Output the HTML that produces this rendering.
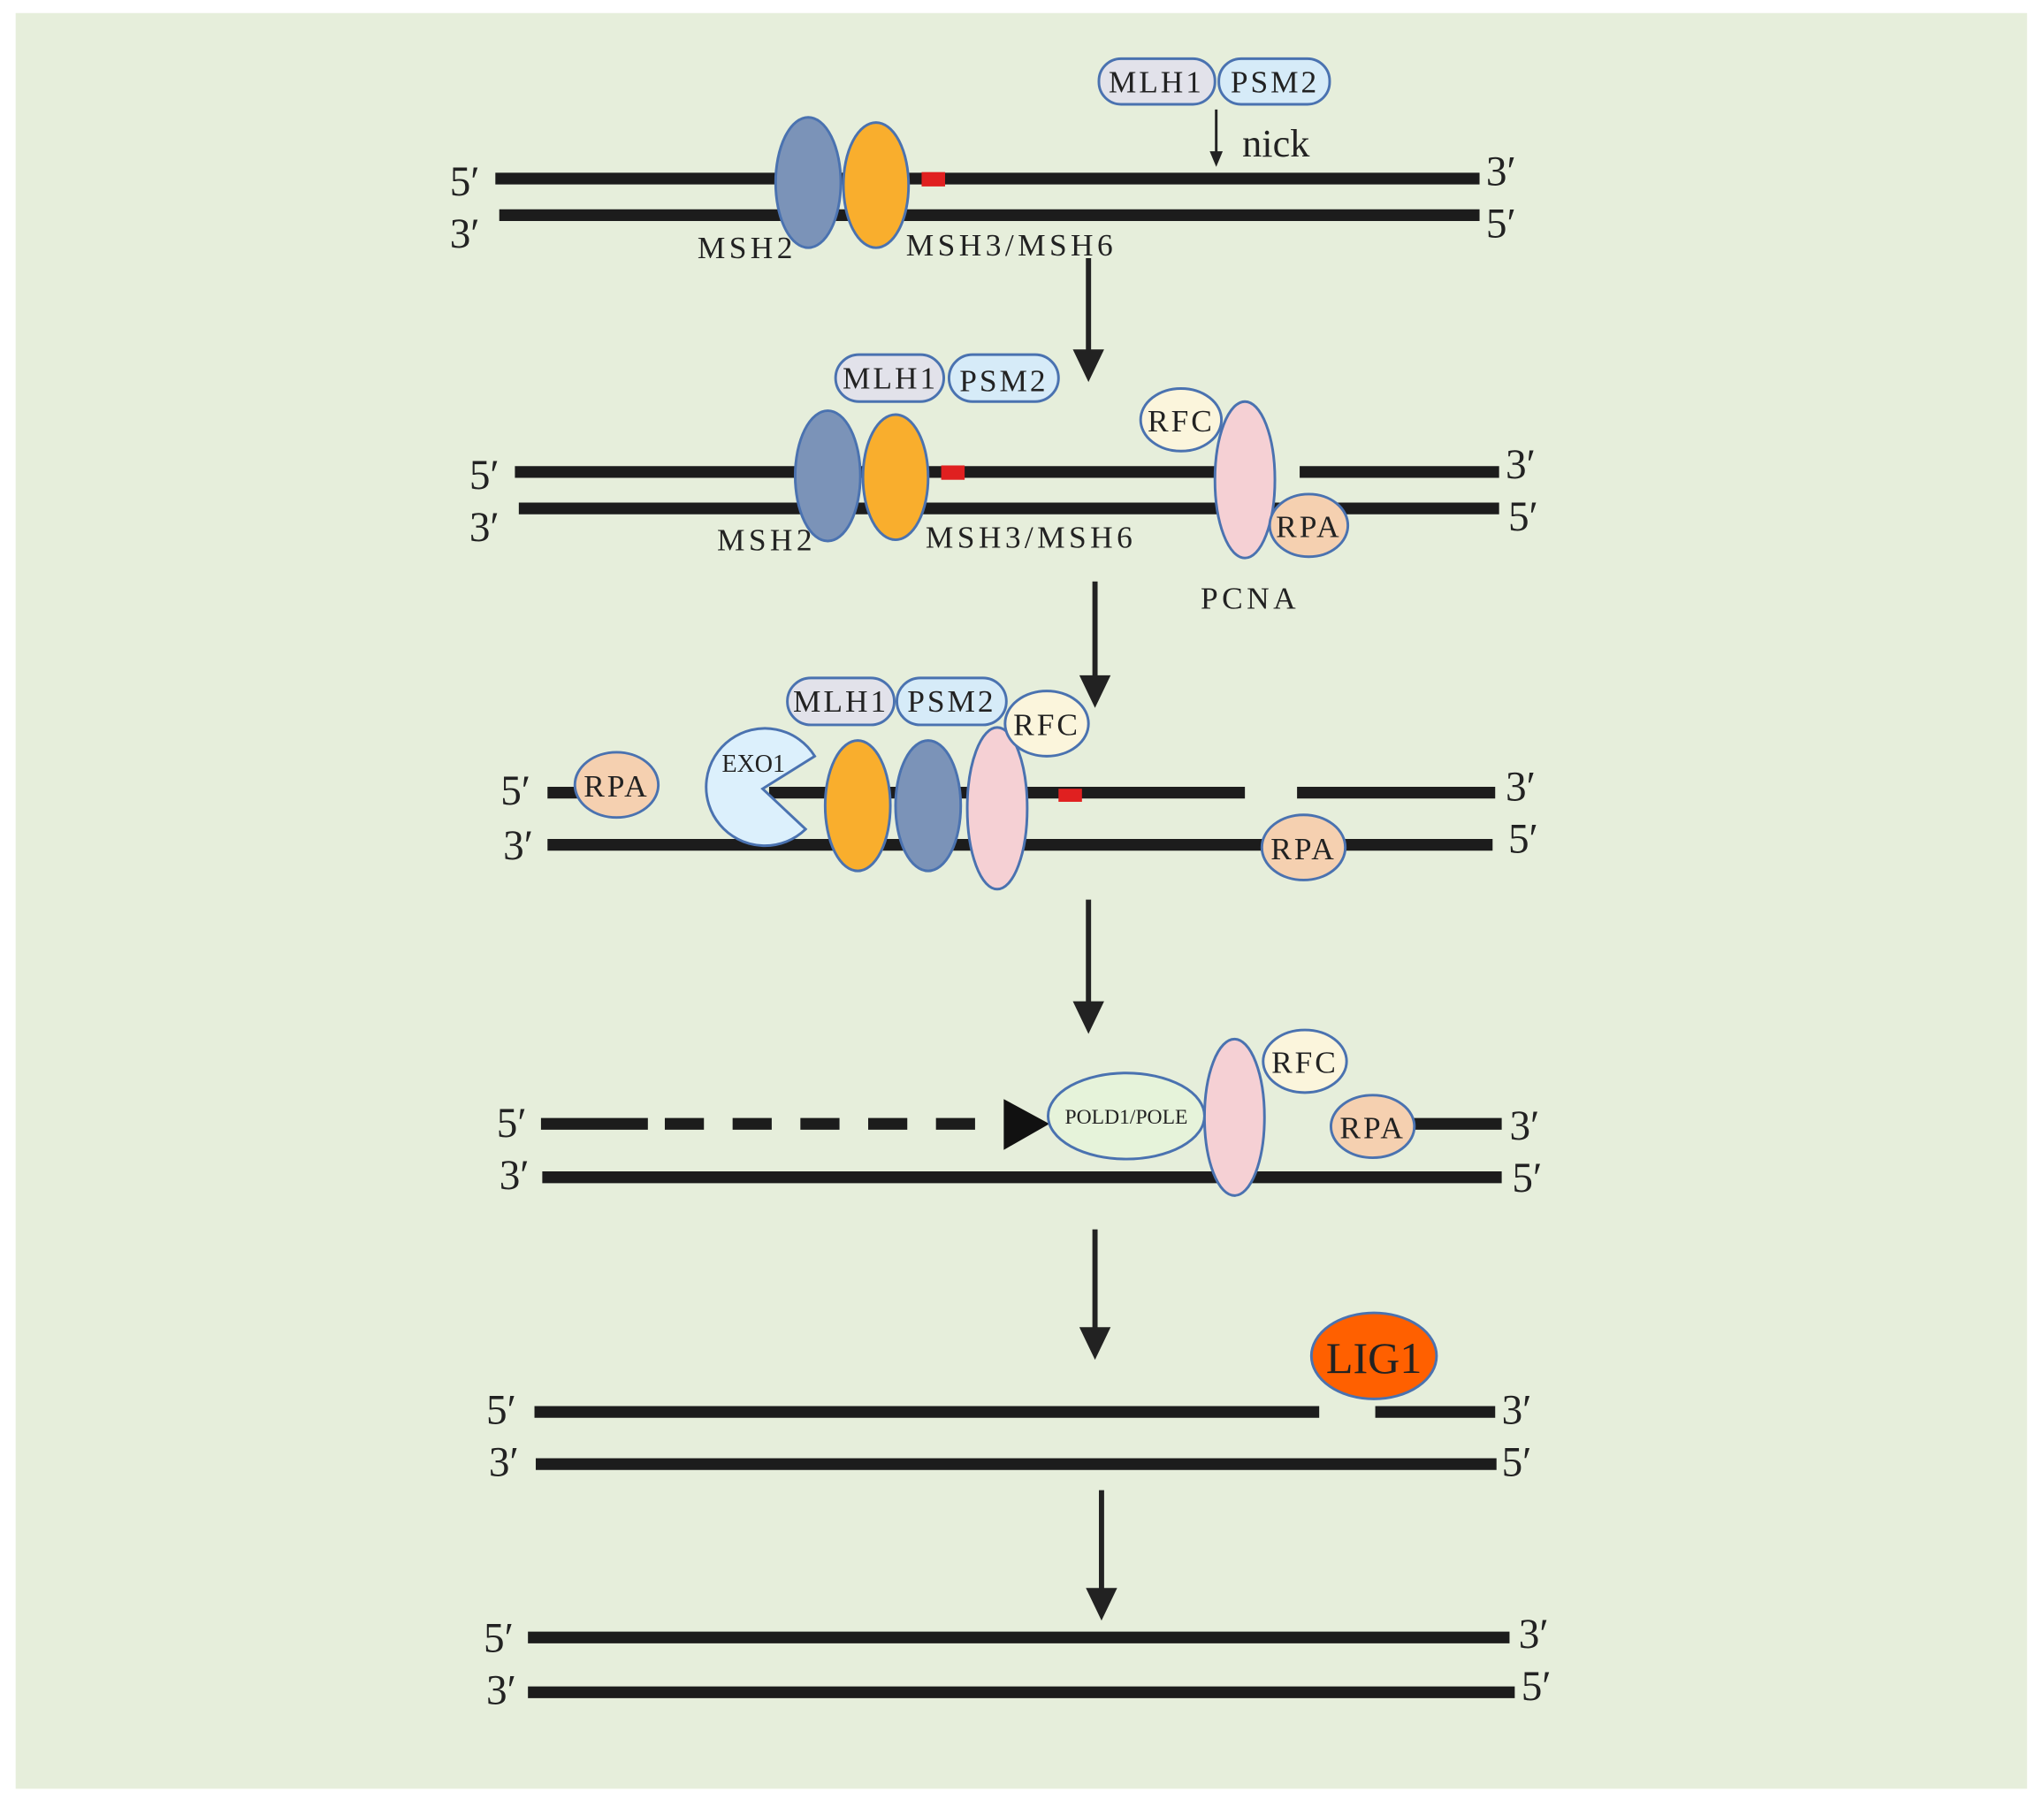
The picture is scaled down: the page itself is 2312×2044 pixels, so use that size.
<!DOCTYPE html>
<html><head><meta charset="utf-8"><style>
html,body{margin:0;padding:0;background:#fff;}
svg{display:block;}
text{font-family:"Liberation Serif",serif;fill:#222;}
</style></head><body>
<svg width="2312" height="2044" viewBox="0 0 1568 1386" preserveAspectRatio="none" xmlns="http://www.w3.org/2000/svg">
<rect x="0" y="0" width="1568" height="1386" fill="#fff"/>
<rect x="12" y="10" width="1543" height="1362" fill="#e6eedb"/>
<g stroke="#1c1c1c" stroke-width="9" fill="none">
<line x1="380" y1="137" x2="1135" y2="137"/>
<line x1="383" y1="165" x2="1135" y2="165"/>
<line x1="395" y1="362" x2="935" y2="362"/>
<line x1="997" y1="362" x2="1150" y2="362"/>
<line x1="398" y1="390" x2="1150" y2="390"/>
<line x1="420" y1="608" x2="445" y2="608"/>
<line x1="590" y1="608" x2="955" y2="608"/>
<line x1="995" y1="608" x2="1147" y2="608"/>
<line x1="420" y1="648" x2="1145" y2="648"/>
<line x1="415" y1="862" x2="497" y2="862"/>
<line x1="510" y1="862" x2="770" y2="862" stroke-dasharray="30 22"/>
<line x1="1080" y1="862" x2="1152" y2="862"/>
<line x1="416" y1="903" x2="1152" y2="903"/>
<line x1="410" y1="1083" x2="1012" y2="1083"/>
<line x1="1055" y1="1083" x2="1147" y2="1083"/>
<line x1="411" y1="1123" x2="1148" y2="1123"/>
<line x1="405" y1="1256" x2="1158" y2="1256"/>
<line x1="405" y1="1298" x2="1162" y2="1298"/>
</g>
<polygon points="770,843 805,862 770,882" fill="#111"/>
<g stroke="#222" stroke-width="4">
<line x1="835" y1="198" x2="835" y2="270"/>
<line x1="840" y1="446" x2="840" y2="520"/>
<line x1="835" y1="690" x2="835" y2="770"/>
<line x1="840" y1="943" x2="840" y2="1020"/>
<line x1="845" y1="1143" x2="845" y2="1220"/>
<line x1="933" y1="84" x2="933" y2="118" stroke-width="2"/>
</g>
<g fill="#222">
<polygon points="823,268 847,268 835,293"/>
<polygon points="828,518 852,518 840,543"/>
<polygon points="823,768 847,768 835,793"/>
<polygon points="828,1018 852,1018 840,1043"/>
<polygon points="833,1218 857,1218 845,1243"/>
<polygon points="928,116 938,116 933,128"/>
</g>
<g stroke="#4a72b0" stroke-width="2">
<ellipse cx="620" cy="140" rx="25" ry="50" fill="#7b93b8"/>
<ellipse cx="672" cy="142" rx="25" ry="48" fill="#f9ae2d"/>
<rect x="843" y="45" width="89" height="35" rx="17" fill="#e2e2ea"/>
<rect x="935" y="45" width="85" height="35" rx="17" fill="#d6ebf8"/>
<ellipse cx="635" cy="365" rx="25" ry="50" fill="#7b93b8"/>
<ellipse cx="687" cy="366" rx="25" ry="48" fill="#f9ae2d"/>
<rect x="641" y="272" width="83" height="36" rx="18" fill="#e2e2ea"/>
<rect x="728" y="272" width="84" height="36" rx="18" fill="#d6ebf8"/>
<ellipse cx="906" cy="322" rx="31" ry="24" fill="#fbf5dc"/>
<ellipse cx="955" cy="368" rx="23" ry="60" fill="#f5d0d4"/>
<ellipse cx="1004" cy="403" rx="30" ry="24" fill="#f5d0b0"/>
<ellipse cx="473" cy="602" rx="32" ry="25" fill="#f5d0b0"/>
<path d="M585,605 L625,580 A45,45 0 1 0 618,636 Z" fill="#dcf0fc"/>
<ellipse cx="658" cy="618" rx="25" ry="50" fill="#f9ae2d"/>
<ellipse cx="712" cy="618" rx="25" ry="50" fill="#7b93b8"/>
<ellipse cx="765" cy="620" rx="23" ry="62" fill="#f5d0d4"/>
<rect x="604" y="520" width="82" height="36" rx="18" fill="#e2e2ea"/>
<rect x="688" y="520" width="84" height="36" rx="18" fill="#d6ebf8"/>
<ellipse cx="803" cy="555" rx="32" ry="25" fill="#fbf5dc"/>
<ellipse cx="1000" cy="650" rx="32" ry="25" fill="#f5d0b0"/>
<ellipse cx="864" cy="856" rx="60" ry="33" fill="#e6f3da"/>
<ellipse cx="947" cy="857" rx="23" ry="60" fill="#f5d0d4"/>
<ellipse cx="1001" cy="814" rx="32" ry="24" fill="#fbf5dc"/>
<ellipse cx="1053" cy="864" rx="32" ry="24" fill="#f5d0b0"/>
<ellipse cx="1054" cy="1040" rx="48" ry="33" fill="#ff6000"/>
</g>
<g fill="#e02020">
<rect x="707" y="132" width="18" height="11"/>
<rect x="722" y="357" width="18" height="11"/>
<rect x="812" y="605" width="18" height="10"/>
</g>
<g font-size="24" letter-spacing="2" text-anchor="middle">
<text x="887" y="71">MLH1</text><text x="978" y="71">PSM2</text>
<text x="683" y="298">MLH1</text><text x="770" y="300">PSM2</text>
<text x="645" y="546">MLH1</text><text x="730" y="546">PSM2</text>
<text x="906" y="331">RFC</text><text x="1004" y="412">RPA</text>
<text x="473" y="611">RPA</text><text x="803" y="564">RFC</text><text x="1000" y="659">RPA</text>
<text x="1001" y="823">RFC</text><text x="1053" y="873">RPA</text>
</g>
<text x="578" y="592" font-size="19" text-anchor="middle">EXO1</text>
<text x="864" y="862" font-size="16" text-anchor="middle">POLD1/POLE</text>
<text x="1054" y="1053" font-size="34" text-anchor="middle" fill="#111">LIG1</text>
<text x="953" y="120" font-size="30">nick</text>
<g font-size="24" letter-spacing="3">
<text x="535" y="198">MSH2</text><text x="695" y="196">MSH3/MSH6</text>
<text x="550" y="422">MSH2</text><text x="710" y="420">MSH3/MSH6</text>
<text x="921" y="467">PCNA</text>
</g>
<g font-size="32">
<text x="345" y="150">5′</text><text x="345" y="190">3′</text><text x="1140" y="142">3′</text><text x="1140" y="182">5′</text>
<text x="360" y="375">5′</text><text x="360" y="415">3′</text><text x="1155" y="367">3′</text><text x="1157" y="407">5′</text>
<text x="384" y="617">5′</text><text x="386" y="659">3′</text><text x="1155" y="614">3′</text><text x="1157" y="654">5′</text>
<text x="381" y="872">5′</text><text x="383" y="912">3′</text><text x="1158" y="874">3′</text><text x="1160" y="914">5′</text>
<text x="373" y="1092">5′</text><text x="375" y="1132">3′</text><text x="1152" y="1092">3′</text><text x="1152" y="1132">5′</text>
<text x="371" y="1267">5′</text><text x="373" y="1307">3′</text><text x="1165" y="1264">3′</text><text x="1167" y="1304">5′</text>
</g>
</svg>
</body></html>
